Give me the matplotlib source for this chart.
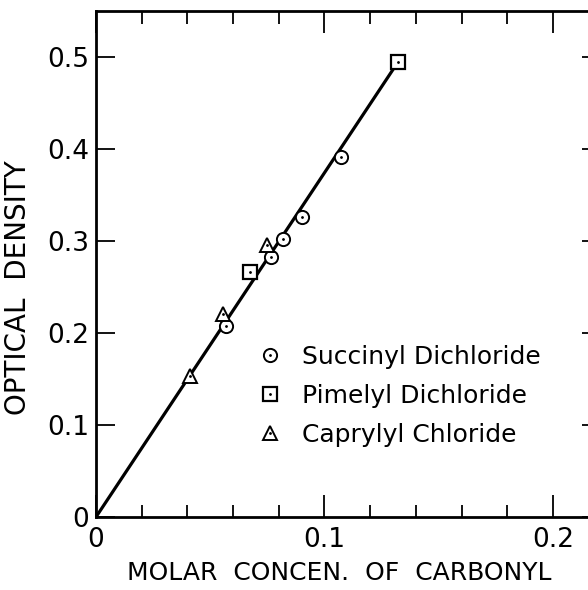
import matplotlib
matplotlib.use("Agg")
import matplotlib.pyplot as plt

# data
succinyl_x = [0.0567, 0.0765, 0.0817, 0.0901, 0.1073]
succinyl_y = [0.208, 0.283, 0.302, 0.326, 0.391]
pimelyl_x = [0.0673, 0.1323]
pimelyl_y = [0.266, 0.495]
caprylyl_x = [0.0410, 0.0558, 0.0747]
caprylyl_y = [0.153, 0.221, 0.296]
fit_x = [0.0, 0.1323]
fit_y = [0.0, 0.495]

series_labels = ["Succinyl Dichloride", "Pimelyl Dichloride", "Caprylyl Chloride"]
xticks = [0.0, 0.1, 0.2]
xticklabels = ["0", "0.1", "0.2"]
xminor = [0.02, 0.04, 0.06, 0.08, 0.12, 0.14, 0.16, 0.18]
yticks = [0.0, 0.1, 0.2, 0.3, 0.4, 0.5]
yticklabels = ["0", "0.1", "0.2", "0.3", "0.4", "0.5"]

plt.rcParams['font.family'] = ['DejaVu Sans']

fig = plt.figure(figsize=(5.88, 5.90), dpi=100)
ax = fig.add_axes([96 / 588, 73 / 590, 496 / 588, 506 / 590])

ax.plot(fit_x, fit_y, color="black", lw=2.3, zorder=2)

ms = 9.5
h1 = ax.plot(succinyl_x, succinyl_y, "o", ms=ms, mfc="white", mec="black", mew=1.4, zorder=3)[0]
h2 = ax.plot(pimelyl_x, pimelyl_y, "s", ms=ms, mfc="white", mec="black", mew=1.6, zorder=3)[0]
h3 = ax.plot(caprylyl_x, caprylyl_y, "^", ms=ms + 1, mfc="white", mec="black", mew=1.4, zorder=3)[0]
for xs, ys in [(succinyl_x, succinyl_y), (pimelyl_x, pimelyl_y), (caprylyl_x, caprylyl_y)]:
    ax.plot(xs, ys, ".", ms=2, color="black", zorder=4)

dot = ax.plot([], [], ".", ms=2, color="black")[0]
ax.legend([(h1, dot), (h2, dot), (h3, dot)], series_labels,
          loc="upper left", bbox_to_anchor=(0.285, 0.385), frameon=False,
          fontsize=18, handlelength=0.8, handletextpad=0.9, labelspacing=0.6)

ax.set_xlim(0, 0.2171)
ax.set_ylim(0, 0.55)
ax.set_xticks(xticks)
ax.set_xticklabels(xticklabels)
ax.set_xticks(xminor, minor=True)
ax.set_yticks(yticks)
ax.set_yticklabels(yticklabels)

ax.tick_params(axis="both", which="both", direction="in", top=True, right=True,
               labelsize=19, width=1.3)
ax.tick_params(axis="x", which="major", length=16, pad=7)
ax.tick_params(axis="x", which="minor", length=9)
ax.tick_params(axis="y", which="major", length=14, pad=5)
for t in ax.yaxis.get_major_ticks():
    t.tick2line.set_markersize(7)

for s in ax.spines.values():
    s.set_linewidth(2)

ax.set_xlabel("MOLAR  CONCEN.  OF  CARBONYL", fontsize=18)
ax.xaxis.set_label_coords(0.49, -0.086)
ax.set_ylabel("OPTICAL  DENSITY", fontsize=20)
ax.yaxis.set_label_coords(-0.13, 0.453)

fig.savefig("out.png", dpi=100)
